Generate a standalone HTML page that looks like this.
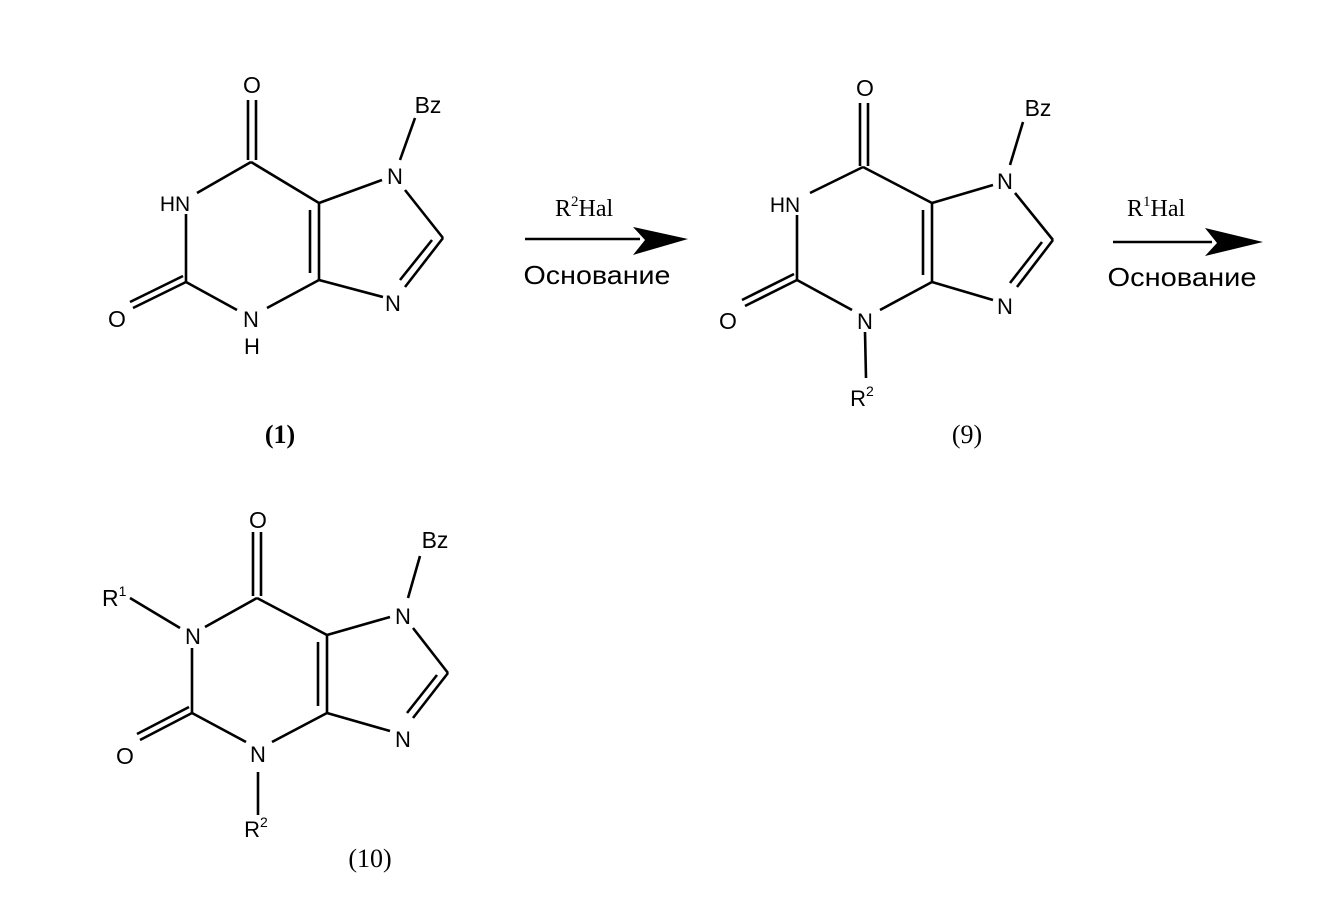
<!DOCTYPE html>
<html><head><meta charset="utf-8"><style>
html,body{margin:0;padding:0;background:#fff;}
svg{display:block;}
text{font-family:"Liberation Sans",sans-serif;fill:#000;}
.s{font-family:"Liberation Serif",serif;}
line,polyline{stroke:#000;stroke-width:2.6;fill:none;}
</style></head><body>
<svg width="1338" height="906" viewBox="0 0 1338 906" xmlns="http://www.w3.org/2000/svg">
<!-- Structure 1 -->
<g>
<line x1="248" y1="100" x2="248" y2="160"/><line x1="256" y1="100" x2="256" y2="160"/>
<line x1="251" y1="162" x2="197" y2="193"/>
<line x1="186" y1="214" x2="186" y2="282"/>
<line x1="186" y1="282" x2="133" y2="308"/><line x1="183" y1="276" x2="130" y2="302"/>
<line x1="186" y1="282" x2="237" y2="310"/>
<line x1="267" y1="308" x2="319" y2="280"/>
<line x1="319" y1="280" x2="319" y2="203"/><line x1="310" y1="273" x2="310" y2="210"/>
<line x1="319" y1="203" x2="251" y2="162"/>
<line x1="319" y1="203" x2="382" y2="180"/>
<line x1="405" y1="190" x2="443" y2="238"/>
<line x1="443" y1="238" x2="405" y2="287"/><line x1="432" y1="240" x2="400" y2="280"/>
<line x1="383" y1="297" x2="319" y2="280"/>
<line x1="400" y1="160" x2="415" y2="118"/>
<text x="252" y="93" font-size="23" text-anchor="middle">O</text>
<text x="428" y="113" font-size="23" text-anchor="middle">Bz</text>
<text x="175" y="211" font-size="21" text-anchor="middle">HN</text>
<text x="395" y="184" font-size="22" text-anchor="middle">N</text>
<text x="393" y="311" font-size="22" text-anchor="middle">N</text>
<text x="117" y="327" font-size="23" text-anchor="middle">O</text>
<text x="251" y="327" font-size="22" text-anchor="middle">N</text>
<text x="252" y="354" font-size="22" text-anchor="middle">H</text>
<text x="280" y="443" font-size="26" text-anchor="middle" class="s" font-weight="bold">(1)</text>
</g>
<!-- Arrow 1 -->
<line x1="525" y1="239" x2="640" y2="239"/>
<polygon points="633,227 688,239 633,255 645,240" fill="#000"/>
<text x="555" y="216" font-size="24" class="s">R<tspan font-size="15" dy="-10">2</tspan><tspan dy="10">Hal</tspan></text>
<text x="597" y="284" font-size="26" text-anchor="middle" textLength="147" lengthAdjust="spacingAndGlyphs">Основание</text>
<!-- Structure 9 -->
<g>
<line x1="860" y1="103" x2="860" y2="166"/><line x1="868" y1="103" x2="868" y2="166"/>
<line x1="863" y1="167" x2="810" y2="193"/>
<line x1="797" y1="215" x2="797" y2="280"/>
<line x1="797" y1="280" x2="745" y2="306"/><line x1="794" y1="274" x2="742" y2="300"/>
<line x1="797" y1="280" x2="852" y2="310"/>
<line x1="880" y1="310" x2="932" y2="282"/>
<line x1="932" y1="282" x2="932" y2="203"/><line x1="923" y1="275" x2="923" y2="210"/>
<line x1="932" y1="203" x2="863" y2="167"/>
<line x1="932" y1="203" x2="993" y2="185"/>
<line x1="1015" y1="193" x2="1053" y2="240"/>
<line x1="1053" y1="240" x2="1017" y2="287"/><line x1="1042" y1="242" x2="1010" y2="283"/>
<line x1="993" y1="300" x2="932" y2="282"/>
<line x1="1010" y1="165" x2="1023" y2="122"/>
<line x1="865" y1="332" x2="866" y2="378"/>
<text x="865" y="96" font-size="23" text-anchor="middle">O</text>
<text x="1038" y="116" font-size="23" text-anchor="middle">Bz</text>
<text x="785" y="212" font-size="21" text-anchor="middle">HN</text>
<text x="1005" y="189" font-size="22" text-anchor="middle">N</text>
<text x="1005" y="314" font-size="22" text-anchor="middle">N</text>
<text x="728" y="329" font-size="23" text-anchor="middle">O</text>
<text x="865" y="329" font-size="22" text-anchor="middle">N</text>
<text x="862" y="406" font-size="22" text-anchor="middle">R<tspan font-size="14" dy="-10">2</tspan></text>
<text x="967" y="443" font-size="26" text-anchor="middle" class="s">(9)</text>
</g>
<!-- Arrow 2 -->
<line x1="1113" y1="242" x2="1212" y2="242"/>
<polygon points="1205,228 1263,242 1205,256 1217,243" fill="#000"/>
<text x="1127" y="216" font-size="24" class="s">R<tspan font-size="15" dy="-10">1</tspan><tspan dy="10">Hal</tspan></text>
<text x="1182" y="286" font-size="26" text-anchor="middle" textLength="149" lengthAdjust="spacingAndGlyphs">Основание</text>
<!-- Structure 10 -->
<g>
<line x1="253" y1="532" x2="253" y2="596"/><line x1="261" y1="532" x2="261" y2="596"/>
<line x1="257" y1="598" x2="205" y2="627"/>
<line x1="130" y1="598" x2="180" y2="628"/>
<line x1="192" y1="648" x2="192" y2="713"/>
<line x1="192" y1="713" x2="140" y2="740"/><line x1="189" y1="707" x2="137" y2="734"/>
<line x1="192" y1="713" x2="246" y2="742"/>
<line x1="272" y1="742" x2="327" y2="713"/>
<line x1="327" y1="713" x2="327" y2="635"/><line x1="318" y1="706" x2="318" y2="642"/>
<line x1="327" y1="635" x2="257" y2="598"/>
<line x1="327" y1="635" x2="390" y2="617"/>
<line x1="413" y1="628" x2="448" y2="673"/>
<line x1="448" y1="673" x2="413" y2="718"/><line x1="437" y1="675" x2="407" y2="713"/>
<line x1="390" y1="731" x2="327" y2="713"/>
<line x1="408" y1="598" x2="420" y2="556"/>
<line x1="258" y1="772" x2="258" y2="815"/>
<text x="258" y="528" font-size="23" text-anchor="middle">O</text>
<text x="435" y="548" font-size="23" text-anchor="middle">Bz</text>
<text x="102" y="606" font-size="23">R<tspan font-size="14" dy="-10">1</tspan></text>
<text x="193" y="644" font-size="22" text-anchor="middle">N</text>
<text x="403" y="624" font-size="22" text-anchor="middle">N</text>
<text x="403" y="747" font-size="22" text-anchor="middle">N</text>
<text x="125" y="764" font-size="23" text-anchor="middle">O</text>
<text x="258" y="762" font-size="22" text-anchor="middle">N</text>
<text x="256" y="837" font-size="22" text-anchor="middle">R<tspan font-size="14" dy="-10">2</tspan></text>
<text x="370" y="867" font-size="26" text-anchor="middle" class="s">(10)</text>
</g>
</svg>
</body></html>
